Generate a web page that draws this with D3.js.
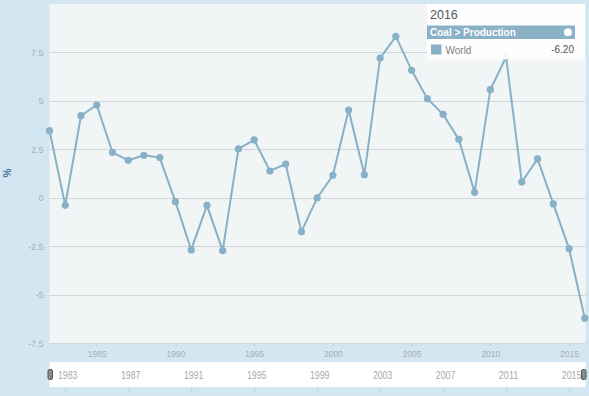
<!DOCTYPE html>
<html>
<head>
<meta charset="utf-8">
<script src="https://cdn.jsdelivr.net/npm/d3@7"></script>
<style>
  html, body { margin: 0; padding: 0; background: #d3e7f2; }
  svg { display: block; font-family: "Liberation Sans", Arial, sans-serif; }
</style>
</head>
<body>
<svg id="chart" width="589" height="396"></svg>
<script>
const years = [1982,1983,1984,1985,1986,1987,1988,1989,1990,1991,1992,1993,1994,1995,1996,1997,1998,1999,2000,2001,2002,2003,2004,2005,2006,2007,2008,2009,2010,2011,2012,2013,2014,2015,2016];
const worldValues = [3.47,-0.38,4.24,4.79,2.35,1.94,2.2,2.08,-0.19,-2.68,-0.38,-2.72,2.53,2.99,1.39,1.75,-1.74,0.0,1.17,4.53,1.2,7.21,8.33,6.58,5.12,4.31,3.02,0.29,5.58,7.27,0.82,2.01,-0.31,-2.61,-6.2];
const yTicks = [-7.5,-5,-2.5,0,2.5,5,7.5];
const yTickLabels = ["-7.5","-5","-2.5","0","2.5","5","7.5"];
const xTicks = [1985,1990,1995,2000,2005,2010,2015];
const navTicks = [1983,1987,1991,1995,1999,2003,2007,2011,2015];
const seriesName = "World";
const legendTitle = "2016";
const legendHeader = "Coal > Production";
const legendValue = "-6.20";
const yAxisTitle = "%";

const svg = d3.select("#chart");
const W = 589, H = 396;
const plot = {left: 49.5, right: 585.5, top: 4, bottom: 343.5};

const x = d3.scaleLinear().domain([1982, 2016]).range([49.5, 584.8]);
const y = d3.scaleLinear().domain([-7.5, 10]).range([343.4, 4]);

svg.append("rect").attr("x",0).attr("y",0).attr("width",W).attr("height",H).attr("fill","#d3e7f2");
svg.append("rect").attr("x",plot.left).attr("y",plot.top).attr("width",plot.right-plot.left).attr("height",plot.bottom-plot.top).attr("fill","#f1f5f6");

// grid
svg.append("g").selectAll("line").data(yTicks).join("line")
  .attr("x1",plot.left).attr("x2",plot.right)
  .attr("y1",d=>Math.round(y(d))+0.5).attr("y2",d=>Math.round(y(d))+0.5)
  .attr("stroke","#d2d5d7").attr("stroke-width",1.2);

// y axis labels
const yAxis = d3.axisLeft(y).tickValues(yTicks).tickFormat((d,i)=>yTickLabels[i]).tickSize(0).tickPadding(6);
const ya = svg.append("g").attr("transform",`translate(${plot.left},0)`).call(yAxis);
ya.select(".domain").remove();
ya.selectAll("text").attr("fill","#a9adb0").attr("font-size","9px");

// y title
svg.append("text").attr("transform","translate(11,173) rotate(-90)")
  .attr("text-anchor","middle").attr("fill","#3f6f9e").attr("font-size","10px").attr("font-weight","bold").text(yAxisTitle);

// x axis
const xAxis = d3.axisBottom(x).tickValues(xTicks).tickFormat(d3.format("d")).tickSize(3).tickPadding(4);
const xa = svg.append("g").attr("transform",`translate(0,${plot.bottom})`).call(xAxis);
xa.select(".domain").remove();
xa.selectAll("line").attr("stroke","#c3ccd1");
xa.selectAll("text").attr("fill","#a9adb0").attr("font-size","8.5px");

// line
const data = years.map((yr,i)=>({yr, v: worldValues[i]}));
const lineGen = d3.line().x(d=>x(d.yr)).y(d=>y(d.v));
svg.append("path").datum(data).attr("d",lineGen).attr("fill","none")
  .attr("stroke","#86b1c6").attr("stroke-width",2);
svg.append("g").selectAll("circle").data(data).join("circle")
  .attr("cx",d=>x(d.yr)).attr("cy",d=>y(d.v)).attr("r",3.6).attr("fill","#86b1c6");

// navigator
svg.append("rect").attr("x",plot.left).attr("y",362).attr("width",plot.right-plot.left).attr("height",25).attr("fill","#ffffff");
const navAxis = d3.axisBottom(x).tickValues(navTicks).tickFormat(d3.format("d")).tickSize(4).tickPadding(0);
const na = svg.append("g").attr("transform","translate(0,387.5)").call(navAxis);
na.select(".domain").remove();
na.selectAll("line").attr("stroke","#bfd0da");
na.selectAll("text").attr("fill","#a6a9ac").attr("font-size","11px")
  .attr("y",-9).attr("dy",0).attr("dx",2)
  .attr("textLength",19.5).attr("lengthAdjust","spacingAndGlyphs");

// handles
[48,581.5].forEach(hx=>{
  svg.append("rect").attr("x",hx).attr("y",369.5).attr("width",4.5).attr("height",10).attr("rx",1.5)
    .attr("fill","#8a8a8a").attr("stroke","#555").attr("stroke-width",1);
});

// legend
const lg = svg.append("g");
lg.append("rect").attr("x",427).attr("y",4).attr("width",158).attr("height",55.5)
  .attr("fill","#ffffff").attr("fill-opacity",0.9);
lg.append("text").attr("x",430).attr("y",18.5).attr("fill","#555").attr("font-size","12.5px").text(legendTitle);
lg.append("rect").attr("x",427).attr("y",25.5).attr("width",148).attr("height",13.5).attr("fill","#8ab1c5");
lg.append("text").attr("x",430).attr("y",36).attr("fill","#ffffff").attr("font-size","10px").attr("font-weight","bold").text(legendHeader);
lg.append("circle").attr("cx",568).attr("cy",32.2).attr("r",4).attr("fill","#ffffff");
lg.append("rect").attr("x",431).attr("y",44.5).attr("width",10.5).attr("height",10).attr("fill","#86b1c6");
lg.append("text").attr("x",445.5).attr("y",53.5).attr("fill","#808080").attr("font-size","10px").text(seriesName);
lg.append("text").attr("x",574).attr("y",53).attr("text-anchor","end").attr("fill","#555").attr("font-size","10px").text(legendValue);
</script>
</body>
</html>
